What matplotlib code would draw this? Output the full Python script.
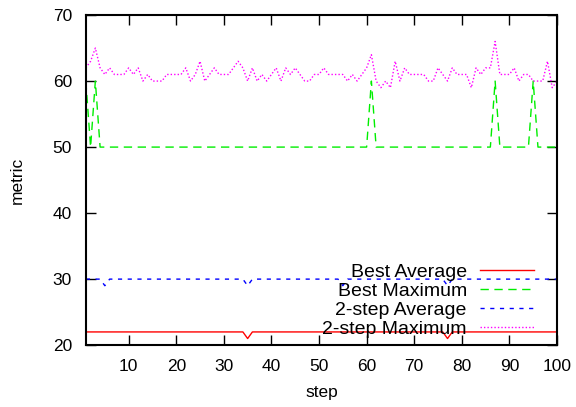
import matplotlib
matplotlib.use("Agg")
import matplotlib.pyplot as plt
import numpy as np

plt.rcParams["font.family"] = ["Liberation Sans", "DejaVu Sans"]

steps = np.arange(1, 101)

best_average = [22] * 100
best_maximum = [50] * 100
two_step_average = [30] * 100

# dips / spikes per step
for s in (35, 77):
    best_average[s - 1] = 21
for s in (1, 3, 61, 87, 95):
    best_maximum[s - 1] = 60
for s in (5, 35, 55, 77):
    two_step_average[s - 1] = 29

two_step_maximum = [
    62, 63, 65, 62, 61, 62, 61, 61, 61, 62,
    61, 62, 60, 61, 60, 60, 60, 61, 61, 61,
    61, 62, 60, 61, 63, 60, 61, 62, 61, 61,
    61, 62, 63, 62, 60, 62, 60, 61, 60, 61,
    62, 60, 62, 61, 62, 61, 60, 60, 61, 61,
    62, 61, 61, 61, 61, 60, 61, 60, 61, 62,
    64, 60, 59, 60, 59, 63, 60, 62, 61, 61,
    61, 61, 60, 60, 62, 61, 60, 62, 61, 61,
    61, 59, 62, 61, 62, 62, 66, 61, 61, 61,
    62, 60, 61, 61, 60, 60, 60, 63, 59, 60,
]

fig = plt.figure(figsize=(5.76, 4.07), dpi=100)
ax = fig.add_axes([0.149, 0.152, 0.818, 0.811])

ax.plot(steps, best_average, color="#ff0000", lw=1.0, label="Best Average")
ax.plot(steps, best_maximum, color="#00ee00", lw=1.0, dashes=(6, 4), label="Best Maximum")
ax.plot(steps, two_step_average, color="#0000ff", lw=1.0, dashes=(3, 4), label="2-step Average")
ax.plot(steps, two_step_maximum, color="#ff00ff", lw=1.0, dashes=(1, 1.5), label="2-step Maximum")

ax.set_xlim(1, 100)
ax.set_ylim(20, 70)
ax.set_xticks(range(10, 101, 10))
ax.set_yticks(range(20, 71, 10))
ax.tick_params(direction="in", top=True, right=True, length=7, width=1,
               labelsize=12.5, pad=10)
for sp in ax.spines.values():
    sp.set_linewidth(1.5)

ax.set_xlabel("step", fontsize=12.5, labelpad=8)
ax.set_ylabel("metric", fontsize=12.5, labelpad=20)

ax.legend(loc="lower right", bbox_to_anchor=(0.951, 0.021), frameon=False,
          markerfirst=False, fontsize=14, handlelength=2.75, labelspacing=0.07,
          handletextpad=0.7, borderpad=0.0, borderaxespad=0.0)

fig.savefig("out.png", dpi=100)
